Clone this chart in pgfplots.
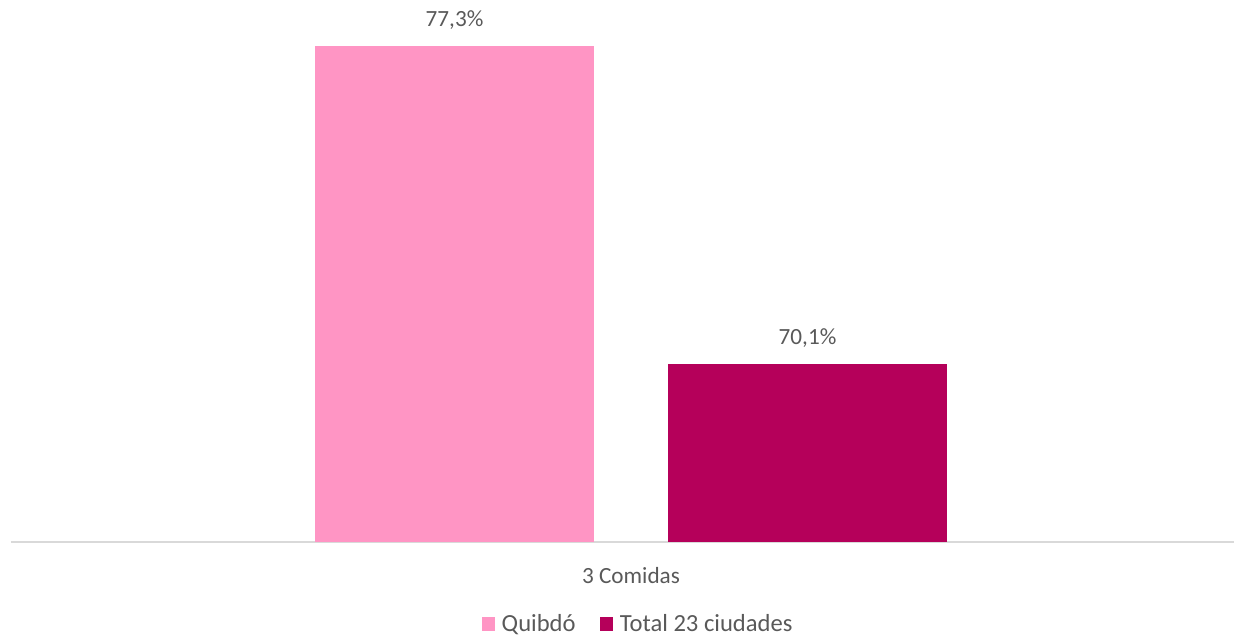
\documentclass[border=0pt]{standalone}
\usepackage{fontspec}
\setmainfont{Carlito}
\usepackage{pgfplots}
\pgfplotsset{compat=1.18}
\definecolor{pinkA}{HTML}{FF95C4}
\definecolor{magB}{HTML}{B5005A}
\definecolor{txt}{HTML}{595959}
\definecolor{axl}{HTML}{D9D9D9}
\begin{document}
\begin{tikzpicture}
\useasboundingbox (0,0) rectangle (617pt,318.5pt);
\begin{axis}[
  at={(5.5pt,47.5pt)}, anchor=south west,
  scale only axis,
  width=611.5pt, height=265pt,
  xmin=-620, xmax=603,
  ymin=66.07, ymax=78.07,
  ybar, bar width=279,
  hide y axis,
  axis x line=bottom,
  x axis line style={draw=axl, line width=0.8pt, -},
  major tick length=0pt,
  xtick={0}, xticklabels={3 Comidas},
  xticklabel style={anchor=center, yshift=-17pt, font=\fontsize{11.6}{14}\selectfont, text=txt},
  /pgf/number format/assume math mode=true,
  nodes near coords={\pgfmathprintnumber[fixed,fixed zerofill,precision=1,use comma]{\pgfplotspointmeta}\%},
  nodes near coords style={font=\fontsize{11.6}{14}\selectfont, text=txt, anchor=center, yshift=13pt},
  legend columns=2,
  legend style={at={(axis cs:8,66.07)}, anchor=center, yshift=-41pt, draw=none, fill=none,
    font=\fontsize{12.3}{14}\selectfont, text=txt,
    /tikz/every odd column/.append style={column sep=1.5pt},
    /tikz/every even column/.append style={column sep=10pt}},
  legend image code/.code={\fill[#1] (0pt,-3.3pt) rectangle (6.6pt,3.3pt);},
]
\addplot[fill=pinkA, draw=none, bar shift=-176.5] coordinates {(0,77.3)};
\addplot[fill=magB, draw=none, bar shift=176.5] coordinates {(0,70.1)};
\legend{Quibdó, Total 23 ciudades}
\end{axis}
\end{tikzpicture}
\end{document}
